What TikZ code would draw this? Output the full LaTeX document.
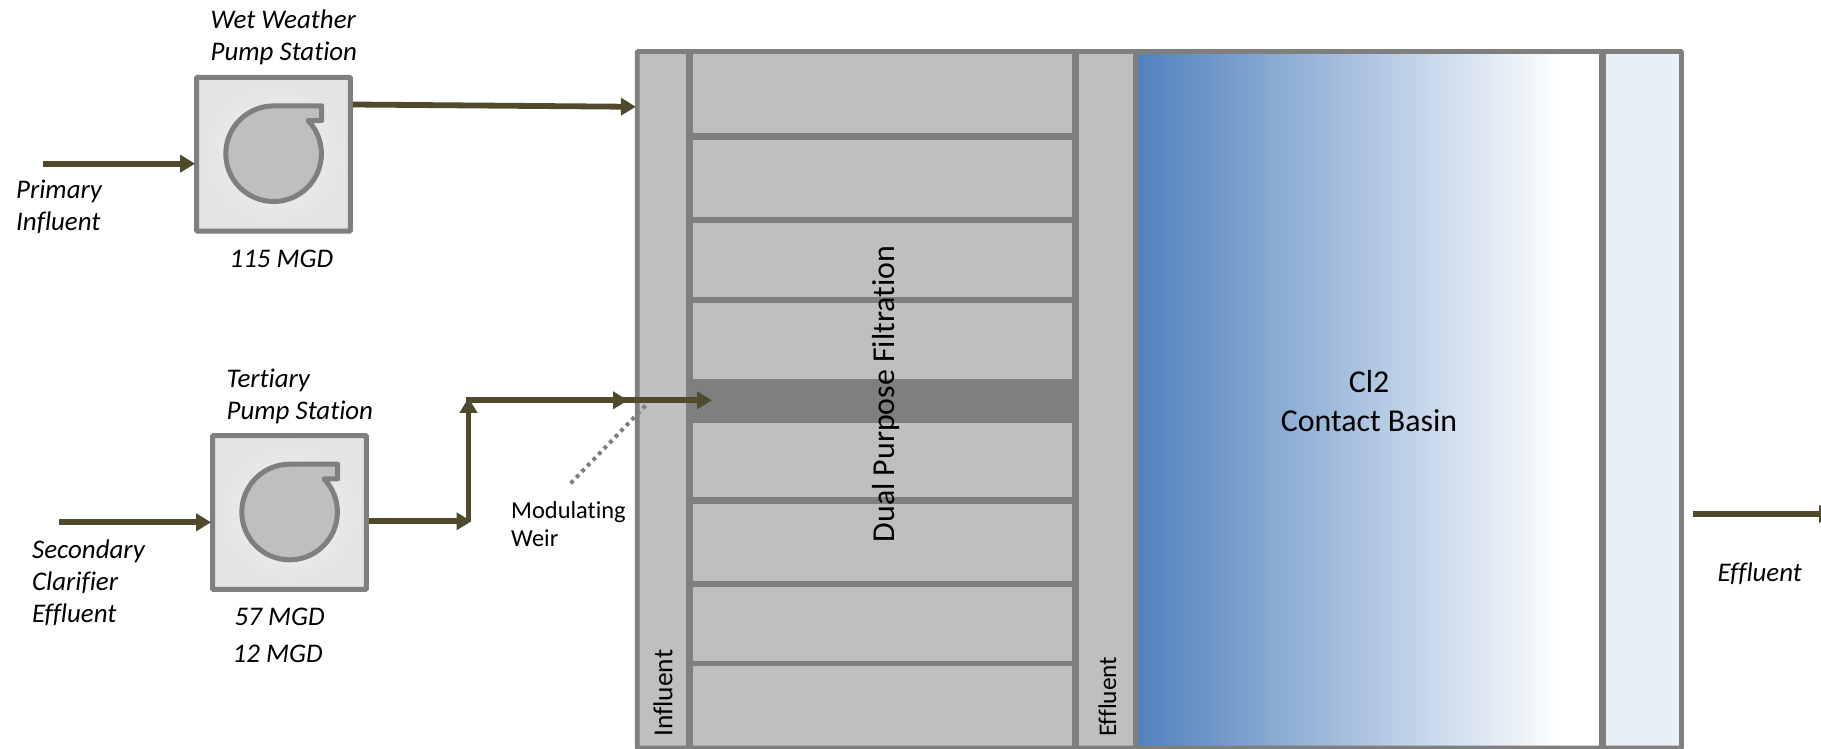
\documentclass[tikz,border=0pt]{standalone}
\usepackage{fontspec}
\setmainfont[Ligatures=NoCommon]{Carlito}
\usetikzlibrary{arrows.meta,calc}
\definecolor{wall}{HTML}{7F7F7F}
\definecolor{cell}{HTML}{BFBFBF}
\definecolor{flow}{HTML}{4F4A2C}
\definecolor{basinblue}{HTML}{4F81BD}
\definecolor{paleblue}{HTML}{E9EFF7}
\pgfdeclarehorizontalshading{basinfade}{100bp}{color(0bp)=(basinblue); color(25bp)=(basinblue); color(70.7bp)=(white); color(100bp)=(white)}
\tikzset{
  flowline/.style={draw=flow,line width=5.8bp,-{Triangle[length=15bp,width=17bp]},flow,shorten >=-1bp},
  flowplain/.style={draw=flow,line width=5.8bp},
  wallframe/.style={draw=wall,line width=4.8bp},
  wallthin/.style={draw=wall,line width=5.4bp},
  wallthick/.style={draw=wall,line width=7bp},
  pumpbox/.style={rectangle,draw=wall,line width=5bp,inner color=white!95!black,outer color=white!89!black,minimum width=153.8bp,minimum height=153.6bp,rounded corners=0.8bp},
  labelit/.style={font=\fontsize{27}{32}\selectfont\itshape,inner sep=0pt,anchor=west,align=left},
  labelup/.style={font=\fontsize{27.5}{30}\selectfont,inner sep=0pt,anchor=west,rotate=90},
  volute/.pic={
    \draw[draw=wall,fill=cell,line width=5bp,line join=round]
      (0.1,-48.3) -- (48.2,-48.3) -- (48.2,-33.7) -- (34.5,-33.7)
      arc[start angle=-44,end angle=270,radius=47.8] -- cycle;
  }
}
\begin{document}
\begin{tikzpicture}[x=1bp,y=-1bp,line cap=butt]
\useasboundingbox (0,0) rectangle (1821,749);
\clip (0,0) rectangle (1821,749);
% chambers
\fill[cell] (637.3,51.6) rectangle (1135.5,748);
\fill[wall] (689.3,379) rectangle (1075,422.7);
\shade[shading=basinfade] (1135.5,51.6) rectangle (1602.5,748);
\fill[paleblue] (1602.5,51.6) rectangle (1681.5,748);
% filter walls
\draw[wallthick] (689.3,51.6) -- (689.3,748);
\draw[wallthick] (1075,51.6) -- (1075,748);
\draw[wallframe] (1135.5,51.6) -- (1135.5,748);
\draw[wallthick] (1602.5,51.6) -- (1602.5,748);
\draw[wallthick] (689.3,136) -- (1075,136);
\draw[wallthin] (689.3,220) -- (1075,220);
\draw[wallthin] (689.3,300) -- (1075,300);
\draw[wallthick] (689.3,500) -- (1075,500);
\draw[wallthin] (689.3,584) -- (1075,584);
\draw[wallthin] (689.3,663.5) -- (1075,663.5);
\node[rectangle,wallframe,minimum width=1044.2bp,minimum height=696.4bp,rounded corners=0.8bp] (frame) at (1159.4,399.8) {};
% pumps
\node[pumpbox] (pumpA) at (273.5,154.2) {};
\node[pumpbox] (pumpB) at (289.5,512.5) {};
\pic at (pumpA) {volute};
\pic at (pumpB) {volute};
% free ends
\coordinate (primary) at (43,163.7);
\coordinate (secondary) at (59,522.3);
\coordinate (wetOut) at (352.7,104.5);
\coordinate (wetIn) at (635,106.8);
\coordinate (riserFoot) at (470.5,521.3);
\coordinate (riserTop) at (468.5,400.3);
\coordinate (weirMid) at (627,400.3);
\coordinate (cellIn) at (711,400.3);
\coordinate (effStart) at (1693.3,514);
\coordinate (effEnd) at (1833,514);
\coordinate (weirNote) at (570.7,483.3);
\coordinate (weirPoint) at (648,403);
% flows
\draw[flowline] (primary) -- (pumpA.west |- primary);
\draw[flowline] (pumpA.east |- wetOut) -- (frame.west |- wetIn);
\draw[flowline] (secondary) -- (pumpB.west |- secondary);
\draw[flowline] (pumpB.east |- riserFoot) -- (riserFoot);
\draw[flowline,shorten >=-2.5bp] (riserFoot -| riserTop) -- (riserTop);
\draw[flowplain] (466,400.3) -- (weirMid);
\draw[flowline] (riserTop) -- (weirMid);
\draw[flowline] (weirMid) -- (cellIn);
\draw[flowline] (effStart) -- (effEnd);
\draw[draw=wall,line width=4bp,dash pattern=on 3.8bp off 4.2bp] (weirNote) -- (weirPoint);
% labels
\node[labelit] (tWet) at (210.5,37) {Wet Weather\\Pump Station};
\node[labelit] (tPrimary) at (16,206.5) {Primary\\Influent};
\node[labelit] (t115) at (229.5,258.5) {115 MGD};
\node[labelit] (tTert) at (226.5,396) {Tertiary\\Pump Station};
\node[labelit] (tSec) at (32,582.5) {Secondary\\Clarifier\\Effluent};
\node[labelit] (t57) at (234.5,617) {57 MGD};
\node[labelit] (t12) at (232.5,654) {12 MGD};
\node[labelit] (tEff) at (1717.5,574) {Effluent};
\node[font=\fontsize{24.5}{28}\selectfont,inner sep=0pt,anchor=west,align=left] (tWeir) at (511,524) {Modulating\\Weir};
\node[font=\fontsize{32}{38.5}\selectfont,inner sep=0pt,align=center] (tBasin) at (1369,401) {Cl2\\Contact Basin};
\node[font=\fontsize{32}{36}\selectfont,inner sep=0pt,rotate=90] (tDual) at (886,394) {Dual Purpose Filtration};
\node[labelup] (tIn) at (663,737) {Influent};
\node[labelup,font=\fontsize{25.5}{30}\selectfont] (tOut) at (1107.5,737) {Effluent};
\end{tikzpicture}
\end{document}
